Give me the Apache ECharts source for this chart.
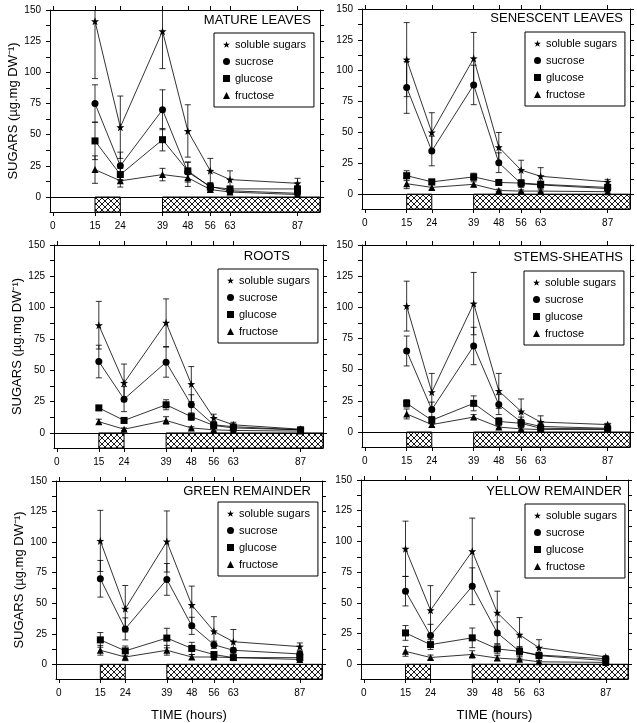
<!DOCTYPE html>
<html>
<head>
<meta charset="utf-8">
<script src="https://cdn.jsdelivr.net/npm/echarts@6/dist/echarts.min.js"></script>
<style>
html,body{margin:0;padding:0;background:#fff;}
#chart{width:637px;height:723px;}
</style>
</head>
<body>
<div id="chart"></div>
<script>
// ---------- DATA ----------
const hours = [15, 24, 39, 48, 56, 63, 87];
const xTickValues = [0, 15, 24, 39, 48, 56, 63, 87];
const yLabelValues = [0, 25, 50, 75, 100, 125, 150];
const yTickValues = [0, 12.5, 25, 37.5, 50, 62.5, 75, 87.5, 100, 112.5, 125, 137.5, 150];
const hatchBands = [[15, 24], [39, 95]];
const seriesNames = ['soluble sugars', 'sucrose', 'glucose', 'fructose'];
const panelTitles = ['MATURE LEAVES', 'SENESCENT LEAVES', 'ROOTS', 'STEMS-SHEATHS', 'GREEN REMAINDER', 'YELLOW REMAINDER'];

// Mature leaves
const matureSol = [141, 56, 133, 53, 21, 14, 11];
const matureSolErr = [46, 25, 30, 21, 10, 7, 4];
const matureSuc = [75, 25, 70, 20, 8.5, 5, 3];
const matureSucErr = [15, 11, 16, 8, 3, 2, 2];
const matureGlu = [45, 18, 46, 21, 8, 6.5, 6.5];
const matureGluErr = [15, 5, 9, 7, 3, 2, 2];
const matureFru = [22, 13, 18, 15.5, 6, 4, 2];
const matureFruErr = [11, 5, 5, 7, 2, 2, 2];

// Senescent leaves
const senescentSol = [109, 50, 110, 38, 19.5, 14.5, 10];
const senescentSolErr = [30, 16, 21, 12, 8, 7, 2];
const senescentSuc = [86.5, 35, 88.5, 25.5, 8.5, 7.5, 4.5];
const senescentSucErr = [21, 12, 16, 8, 3, 3, 2];
const senescentGlu = [15, 10, 14, 9.5, 9, 8, 5.5];
const senescentGluErr = [4, 2, 3, 2, 2, 2, 2];
const senescentFru = [8.5, 5.5, 8, 3, 2.5, 2.5, 2];
const senescentFruErr = [4, 2, 2, 1, 1, 1, 1];

// Roots
const rootsSol = [86, 40, 88, 39, 12, 6.5, 3];
const rootsSolErr = [19, 15, 19, 14, 3, 2, 1];
const rootsSuc = [57, 27, 56.5, 22.5, 6.5, 5, 2.5];
const rootsSucErr = [13, 10, 12, 8, 2, 2, 1];
const rootsGlu = [20, 10, 22.5, 13, 6, 4, 2.5];
const rootsGluErr = [2, 2, 4, 3, 1, 1, 1];
const rootsFru = [9, 3, 10, 4, 2.5, 2, 1.5];
const rootsFruErr = [2, 1, 3, 1, 1, 1, 1];

// Stems-sheaths
const stemsSol = [101, 32, 103, 33, 16.5, 8, 6];
const stemsSolErr = [20, 15, 25, 14, 10, 5, 1];
const stemsSuc = [65, 18, 69, 22, 8, 4.5, 3];
const stemsSucErr = [12, 6, 15, 8, 4, 2, 1];
const stemsGlu = [23, 9.5, 23, 8.5, 7, 3, 2.5];
const stemsGluErr = [3, 3, 6, 3, 3, 1, 1];
const stemsFru = [14.5, 6, 12, 4, 2.5, 2, 2];
const stemsFruErr = [4, 2, 2, 1, 1, 1, 1];

// Green remainder
const greenSol = [101, 45.5, 100.5, 48.5, 27, 18.5, 14.5];
const greenSolErr = [25, 19, 25, 15.5, 12, 10, 3];
const greenSuc = [70, 29, 69.5, 31.5, 16, 11.5, 8.5];
const greenSucErr = [15, 9, 13, 7, 3, 2, 2];
const greenGlu = [20, 11, 21.5, 13, 8, 5.5, 5.5];
const greenGluErr = [6, 4, 8, 5, 2, 1, 1];
const greenFru = [11.5, 6, 11.5, 6, 6, 5.5, 4];
const greenFruErr = [4, 3, 4, 2, 1, 1, 1];

// Yellow remainder
const yellowSol = [94, 44, 92, 42, 24, 13.5, 6];
const yellowSolErr = [22.5, 20, 27, 17.5, 14, 6.5, 1];
const yellowSuc = [59.5, 23.5, 63.5, 25.5, 10.5, 7.5, 4.5];
const yellowSucErr = [12, 9, 15, 9, 4, 2, 1];
const yellowGlu = [25.5, 16, 21.5, 12.5, 10.5, 7, 3];
const yellowGluErr = [6, 4, 8, 4, 3, 2, 1];
const yellowFru = [10.5, 5.5, 8, 5, 4, 2, 1.5];
const yellowFruErr = [4, 2, 3, 2, 1, 1, 1];

const panelValues = [
  [matureSol, matureSuc, matureGlu, matureFru],
  [senescentSol, senescentSuc, senescentGlu, senescentFru],
  [rootsSol, rootsSuc, rootsGlu, rootsFru],
  [stemsSol, stemsSuc, stemsGlu, stemsFru],
  [greenSol, greenSuc, greenGlu, greenFru],
  [yellowSol, yellowSuc, yellowGlu, yellowFru]
];
const panelErrors = [
  [matureSolErr, matureSucErr, matureGluErr, matureFruErr],
  [senescentSolErr, senescentSucErr, senescentGluErr, senescentFruErr],
  [rootsSolErr, rootsSucErr, rootsGluErr, rootsFruErr],
  [stemsSolErr, stemsSucErr, stemsGluErr, stemsFruErr],
  [greenSolErr, greenSucErr, greenGluErr, greenFruErr],
  [yellowSolErr, yellowSucErr, yellowGluErr, yellowFruErr]
];

// ---------- LAYOUT / STYLE ----------
const FONT = 'Liberation Sans, Arial, Helvetica, sans-serif';
const gridBoxes = [
  {left: 50, top: 10, width: 270, height: 202},
  {left: 362, top: 9, width: 268, height: 200},
  {left: 54, top: 245, width: 269, height: 203},
  {left: 362, top: 245, width: 268, height: 202},
  {left: 56, top: 481, width: 266, height: 201},
  {left: 361, top: 480, width: 267, height: 200}
];
const legendPos = [[214, 33], [525, 32], [218, 269], [524, 271], [218, 502], [525, 504]];
const titlePos = [[311, 14], [623, 12], [290, 250], [623, 251], [311, 485], [622, 485]];

const starPath = 'path://M0,-10 L2.35,-3.24 L9.51,-3.09 L3.8,1.24 L5.88,8.09 L0,4 L-5.88,8.09 L-3.8,1.24 L-9.51,-3.09 L-2.35,-3.24 Z';
const symbols = [starPath, 'circle', 'rect', 'triangle'];
const symbolSizes = [8, 7, 7, 7];

// hatch pattern
const pc = document.createElement('canvas');
pc.width = 6; pc.height = 6;
const pctx = pc.getContext('2d');
pctx.fillStyle = '#fff';
pctx.fillRect(0, 0, 6, 6);
pctx.strokeStyle = '#000';
pctx.lineWidth = 0.9;
pctx.beginPath();
pctx.moveTo(0, 0); pctx.lineTo(6, 6);
pctx.moveTo(6, 0); pctx.lineTo(0, 6);
pctx.stroke();
const hatchPattern = {image: pc, repeat: 'repeat'};

const black = '#000';
const option = {
  animation: false,
  backgroundColor: '#fff',
  textStyle: {fontFamily: FONT, color: black},
  title: [], legend: [], grid: [], xAxis: [], yAxis: [], series: []
};

for (let p = 0; p < 6; p++) {
  const isLeft = p % 2 === 0;
  const isBottom = p >= 4;
  option.grid.push(Object.assign({}, gridBoxes[p]));
  option.title.push({
    text: panelTitles[p], left: titlePos[p][0], top: titlePos[p][1], textAlign: 'right',
    textStyle: {fontFamily: FONT, fontSize: 13, fontWeight: 'normal', color: black}, padding: 0
  });
  option.legend.push({
    orient: 'vertical', left: legendPos[p][0], top: legendPos[p][1],
    data: seriesNames.map((n, i) => ({name: n, icon: symbols[i]})),
    itemWidth: 7, itemHeight: 7, itemGap: 6,
    borderColor: black, borderWidth: 1, borderRadius: 0,
    padding: [6, 8, 6, 9],
    selectedMode: false,
    textStyle: {fontFamily: FONT, fontSize: 11, color: black},
    itemStyle: {color: black, borderWidth: 0}
  });
  // bottom x axis
  option.xAxis.push({
    type: 'value', gridIndex: p, min: -1, max: 95, position: 'bottom',
    axisLine: {show: true, onZero: false, lineStyle: {color: black, width: 1}},
    axisTick: {show: true, customValues: xTickValues, length: 4, lineStyle: {color: black}},
    axisLabel: {customValues: xTickValues, color: black, fontSize: 10, fontFamily: FONT, margin: 9},
    splitLine: {show: false},
    name: isBottom ? 'TIME (hours)' : '',
    nameLocation: 'middle', nameGap: 30,
    nameTextStyle: {fontFamily: FONT, fontSize: 13, color: black}
  });
  // top x axis (frame)
  option.xAxis.push({
    type: 'value', gridIndex: p, min: -1, max: 95, position: 'top',
    axisLine: {show: true, onZero: false, lineStyle: {color: black, width: 1}},
    axisTick: {show: true, customValues: xTickValues, length: 4, lineStyle: {color: black}},
    axisLabel: {show: false}, splitLine: {show: false}
  });
  // left y axis
  option.yAxis.push({
    type: 'value', gridIndex: p, min: -12, max: 150, position: 'left',
    axisLine: {show: true, onZero: false, lineStyle: {color: black, width: 1}},
    axisTick: {show: true, customValues: yTickValues, length: 4, lineStyle: {color: black}},
    axisLabel: {customValues: yLabelValues, color: black, fontSize: 10, fontFamily: FONT, margin: 9},
    splitLine: {show: false},
    name: isLeft ? 'SUGARS (µg.mg DW⁻¹)' : '',
    nameLocation: 'middle', nameGap: 28, nameRotate: 90,
    nameTextStyle: {fontFamily: FONT, fontSize: 13, color: black}
  });
  // right y axis (frame)
  option.yAxis.push({
    type: 'value', gridIndex: p, min: -12, max: 150, position: 'right',
    axisLine: {show: true, onZero: false, lineStyle: {color: black, width: 1}},
    axisTick: {show: true, customValues: yTickValues, length: 4, lineStyle: {color: black}},
    axisLabel: {show: false}, splitLine: {show: false}
  });

  const xi = 2 * p, yi = 2 * p;
  // hatched bands below zero
  option.series.push({
    type: 'custom', xAxisIndex: xi, yAxisIndex: yi, z: 1, silent: true,
    data: hatchBands,
    renderItem: function (params, api) {
      const a = api.coord([api.value(0), 0]);
      const b = api.coord([api.value(1), -12]);
      return {type: 'rect', shape: {x: a[0], y: a[1], width: b[0] - a[0], height: b[1] - a[1]},
        style: {fill: hatchPattern, stroke: black, lineWidth: 1}};
    },
    markLine: {silent: true, symbol: 'none', label: {show: false},
      lineStyle: {color: black, type: 'solid', width: 1}, data: [{yAxis: 0}]}
  });
  for (let s = 0; s < 4; s++) {
    const vals = panelValues[p][s];
    const errs = panelErrors[p][s];
    // error bars
    option.series.push({
      type: 'custom', xAxisIndex: xi, yAxisIndex: yi, z: 2, silent: true, clip: true,
      data: hours.map((h, i) => [h, vals[i] - errs[i], vals[i] + errs[i]]),
      renderItem: function (params, api) {
        const x = api.value(0);
        const lo = api.coord([x, api.value(1)]);
        const hi = api.coord([x, api.value(2)]);
        const w = 3;
        const st = {stroke: black, lineWidth: 0.8};
        return {type: 'group', children: [
          {type: 'line', shape: {x1: lo[0], y1: lo[1], x2: hi[0], y2: hi[1]}, style: st},
          {type: 'line', shape: {x1: lo[0] - w, y1: lo[1], x2: lo[0] + w, y2: lo[1]}, style: st},
          {type: 'line', shape: {x1: hi[0] - w, y1: hi[1], x2: hi[0] + w, y2: hi[1]}, style: st}
        ]};
      }
    });
    option.series.push({
      type: 'line', name: seriesNames[s], xAxisIndex: xi, yAxisIndex: yi, z: 3,
      data: hours.map((h, i) => [h, vals[i]]),
      symbol: symbols[s], symbolSize: symbolSizes[s],
      itemStyle: {color: black, borderWidth: 0},
      lineStyle: {color: black, width: 0.8},
      silent: true
    });
  }
}

const chart = echarts.init(document.getElementById('chart'), null, {renderer: 'canvas'});
chart.setOption(option);
</script>
</body>
</html>
